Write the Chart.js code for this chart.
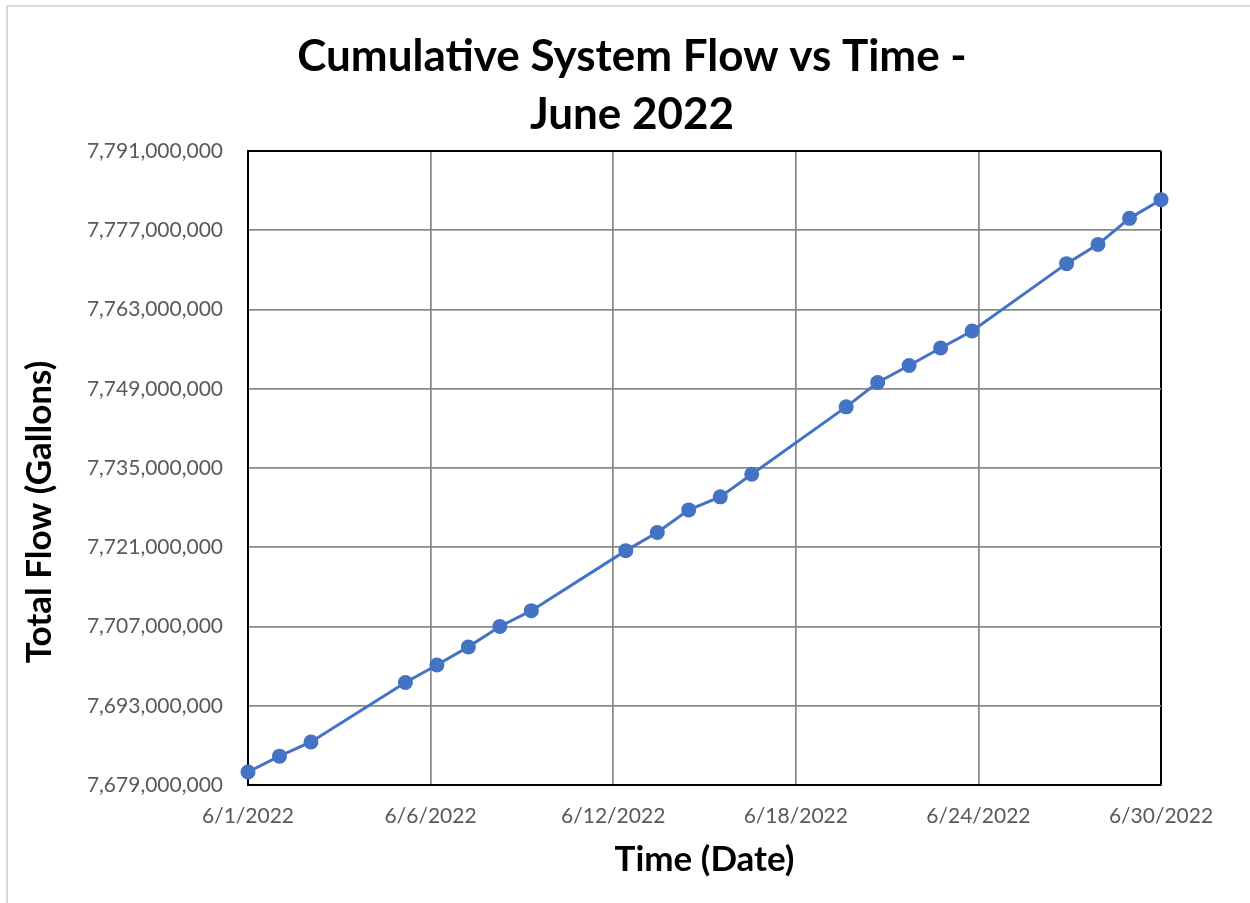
<!DOCTYPE html>
<html><head><meta charset="utf-8">
<script src="https://cdn.jsdelivr.net/npm/chart.js@4"></script>
<style>html,body{margin:0;padding:0;background:#fff;overflow:hidden}#wrap{width:1250px;height:903px;position:relative}</style>
</head><body><div id="wrap"><canvas id="c" width="1250" height="903"></canvas></div>
<script>
// Data
const dayOfJune = [1,2,3,6,7,8,9,10,13,14,15,16,17,20,21,22,23,24,27,28,29,30];
const totalFlowGallons = [7681300000,7684100000,7686600000,7697100000,7700200000,7703400000,7707000000,7709800000,7720400000,7723600000,7727600000,7729900000,7733900000,7745800000,7750100000,7753100000,7756200000,7759200000,7771100000,7774500000,7779100000,7782400000];
const xTickDays = [1, 6.8, 12.6, 18.4, 24.2, 30];
const xTickLabels = ['6/1/2022','6/6/2022','6/12/2022','6/18/2022','6/24/2022','6/30/2022'];
const yMin = 7679000000, yMax = 7791000000, yStep = 14000000;
const titleLines = ['Cumulative System Flow vs Time -', 'June 2022'];
const xTitle = 'Time (Date)';
const yTitle = 'Total Flow (Gallons)';

const points = dayOfJune.map((d, i) => ({x: d, y: totalFlowGallons[i]}));
const GRID = '#8a8a8a';
const FONT = 'Lato, "Open Sans", sans-serif';

const frame = {
  id: 'frame',
  beforeDraw(chart) {
    const ctx = chart.ctx;
    ctx.save();
    ctx.strokeStyle = '#d9d9d9';
    ctx.lineWidth = 2;
    ctx.strokeRect(7, 6, 1400, 1000);
    ctx.restore();
  }
};
const yTitlePlugin = {
  id: 'yTitle',
  afterDraw(chart) {
    const ctx = chart.ctx;
    ctx.save();
    ctx.translate(40, 512);
    ctx.rotate(-Math.PI / 2);
    ctx.font = 'bold 35px ' + FONT;
    ctx.fillStyle = '#000';
    ctx.textAlign = 'center';
    ctx.textBaseline = 'middle';
    ctx.fillText(yTitle, 0, 0);
    ctx.restore();
  }
};

new Chart(document.getElementById('c'), {
  type: 'line',
  data: {
    datasets: [{
      data: points,
      borderColor: '#4472C4',
      backgroundColor: '#4472C4',
      borderWidth: 3,
      pointRadius: 7.5,
      pointHoverRadius: 7.5,
      pointBorderWidth: 0,
      pointBackgroundColor: '#4472C4',
      tension: 0,
      clip: false
    }]
  },
  options: {
    responsive: false,
    animation: false,
    events: [],
    layout: {padding: {left: 14, right: 0, top: 0, bottom: 0}},
    plugins: {
      legend: {display: false},
      tooltip: {enabled: false},
      title: {
        display: true,
        text: titleLines,
        color: '#000',
        font: {family: FONT, size: 44, weight: 'bold', lineHeight: 1.318},
        padding: {top: 28, bottom: 7}
      }
    },
    scales: {
      x: {
        type: 'linear',
        min: 1, max: 30,
        afterBuildTicks(scale) { scale.ticks = xTickDays.map(v => ({value: v})); },
        afterFit(scale) { scale.height = 118; },
        ticks: {
          callback: (v, i) => xTickLabels[i],
          color: '#595959',
          font: {family: FONT, size: 21},
          padding: 19,
          maxRotation: 0,
          autoSkip: false
        },
        grid: {
          color: c => (c.tick && c.tick.value === 30) ? '#000' : GRID,
          lineWidth: c => (c.tick && c.tick.value === 30) ? 2 : 1.75,
          drawTicks: false
        },
        border: {display: true, color: '#000', width: 2},
        title: {
          display: true,
          text: xTitle,
          color: '#000',
          font: {family: FONT, size: 35, weight: 'bold', lineHeight: 1.2},
          padding: {top: 0, bottom: 22}
        }
      },
      y: {
        type: 'linear',
        min: yMin, max: yMax,
        afterFit(scale) { scale.width = 234; },
        ticks: {
          stepSize: yStep,
          callback: v => Number(v).toLocaleString('en-US'),
          color: '#595959',
          font: {family: FONT, size: 21},
          padding: 25
        },
        grid: {
          color: c => (c.tick && c.tick.value === yMax) ? '#000' : GRID,
          lineWidth: c => (c.tick && c.tick.value === yMax) ? 2 : 1.75,
          drawTicks: false
        },
        border: {display: true, color: '#000', width: 2}
      },
      yRightSpace: {
        type: 'linear',
        position: 'right',
        display: true,
        afterFit(scale) { scale.width = 89; },
        ticks: {display: false},
        grid: {display: false, drawTicks: false},
        border: {display: false}
      }
    }
  },
  plugins: [frame, yTitlePlugin]
});
</script>
</body></html>
